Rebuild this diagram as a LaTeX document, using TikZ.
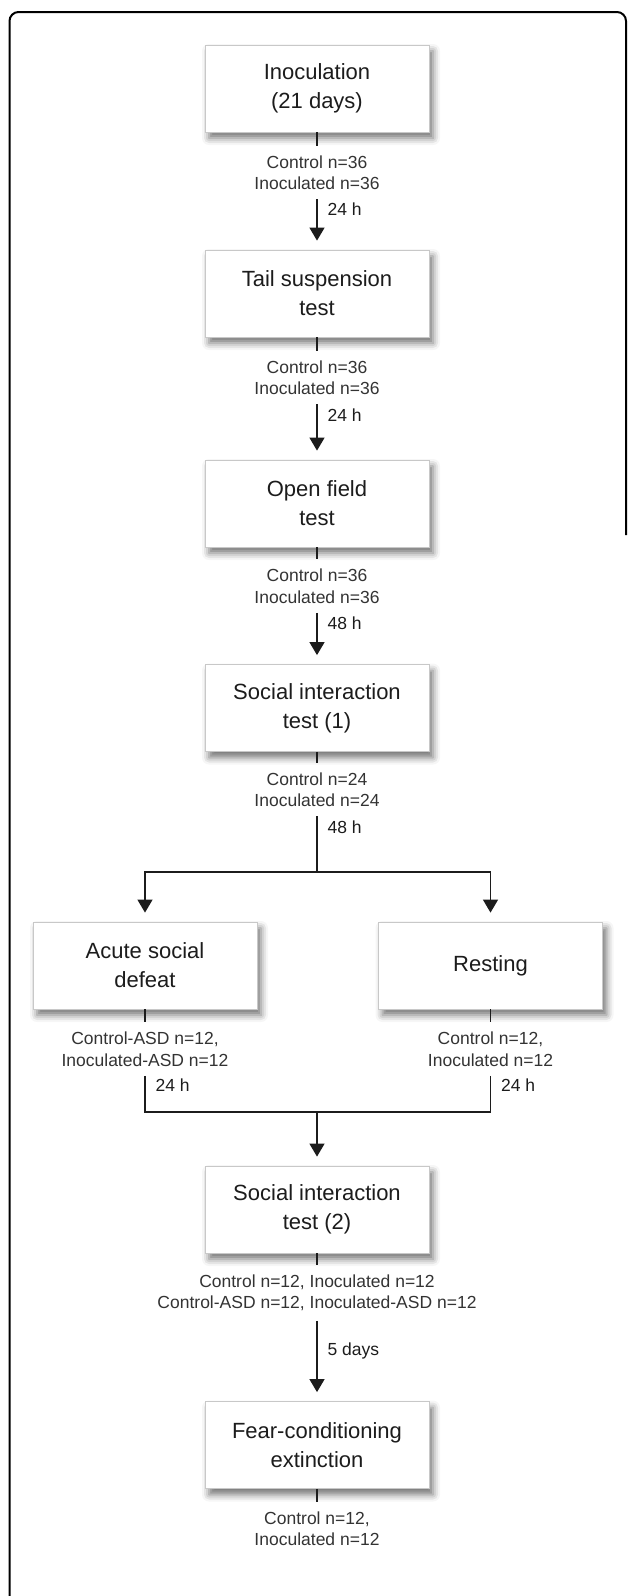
\documentclass[tikz,border=0pt]{standalone}
\usepackage{fontspec}
\setmainfont{Liberation Sans}
\usetikzlibrary{arrows.meta, shadows.blur}
\definecolor{boxline}{RGB}{200,200,200}
\definecolor{ink}{RGB}{28,28,28}

\begin{document}
\begin{tikzpicture}[
    x=1pt, y=-1pt,
    stage/.style={draw=boxline, line width=0.8pt, fill=white, minimum width=224pt,
        minimum height=87pt, align=center, inner sep=2pt, text=ink,
        font=\fontsize{22}{29}\selectfont,
        blur shadow={shadow xshift=4pt, shadow yshift=-6pt,
            shadow blur radius=7pt, shadow opacity=55}},
    count/.style={align=center, inner xsep=2pt, inner ysep=9.5pt, text=ink!90,
        font=\fontsize{17.5}{21.5}\selectfont},
    stub/.style={draw=ink, line width=1.3pt},
    flow/.style={stub, -{Triangle[width=15pt, length=13pt]}, shorten >=9pt},
    delay/.style={font=\fontsize{17.5}{21}\selectfont, text=ink, anchor=west,
        inner xsep=10pt, inner ysep=0pt},
    frame/.style={draw=black, line width=2pt, rounded corners=9pt}
]
    \useasboundingbox (0,0) rectangle (629,1596);
    \draw[frame] (9.5,1600) -- (9.5,12) -- (626,12) -- (626,535);

    \node[stage] (inoc) at (317,88.5) {Inoculation\\(21 days)};
    \node[count] (n1) at (317,172.5) {Control n=36\\Inoculated n=36};
    \node[stage] (tail) at (317,293.5) {Tail suspension\\test};
    \node[count] (n2) at (317,377.5) {Control n=36\\Inoculated n=36};
    \node[stage] (open) at (317,503.5) {Open field\\test};
    \node[count] (n3) at (317,586) {Control n=36\\Inoculated n=36};
    \node[stage] (soc1) at (317,708) {Social interaction\\test (1)};
    \node[count] (n4) at (317,789.5) {Control n=24\\Inoculated n=24};

    \node[stage] (asd) at (145,965.5) {Acute social\\defeat};
    \node[stage] (rest) at (490.5,965.5) {Resting};
    \node[count] (n5) at (145,1049) {Control-ASD n=12,\\Inoculated-ASD n=12};
    \node[count] (n6) at (490.5,1049) {Control n=12,\\Inoculated n=12};

    \node[stage] (soc2) at (317,1209.5) {Social interaction\\test (2)};
    \node[count] (n7) at (317,1293) {Control n=12, Inoculated n=12\\Control-ASD n=12, Inoculated-ASD n=12};
    \node[stage] (fear) at (317,1445) {Fear-conditioning\\extinction};
    \node[count] (n8) at (317,1528.5) {Control n=12,\\Inoculated n=12};

    \coordinate (split) at (317,872);
    \coordinate (merge) at (317,1112);

    \draw[stub] (inoc.south) -- (n1.north);
    \draw[flow] (n1.south) -- node[delay, pos=.2] {24 h} (tail.north);
    \draw[stub] (tail.south) -- (n2.north);
    \draw[flow] (n2.south) -- node[delay, pos=.2] {24 h} (open.north);
    \draw[stub] (open.south) -- (n3.north);
    \draw[flow] (n3.south) -- node[delay, pos=.2] {48 h} (soc1.north);
    \draw[stub] (soc1.south) -- (n4.north);
    \draw[stub] (n4.south) -- node[delay, pos=.2] {48 h} (split);
    \draw[flow] (split) -| (asd.north);
    \draw[flow] (split) -| (rest.north);

    \draw[stub] (asd.south) -- (n5.north);
    \draw[stub] (rest.south) -- (n6.north);
    \draw[stub] (n5.south) -- node[delay, pos=.27] {24 h} (n5.south |- merge) -- (merge);
    \draw[stub] (n6.south) -- node[delay, pos=.27] {24 h} (n6.south |- merge) -- (merge);
    \draw[flow] (merge) -- (soc2.north);

    \draw[stub] (soc2.south) -- (n7.north);
    \draw[flow] (n7.south) -- node[delay, pos=.37] {5 days} (fear.north);
    \draw[stub] (fear.south) -- (n8.north);
\end{tikzpicture}
\end{document}
